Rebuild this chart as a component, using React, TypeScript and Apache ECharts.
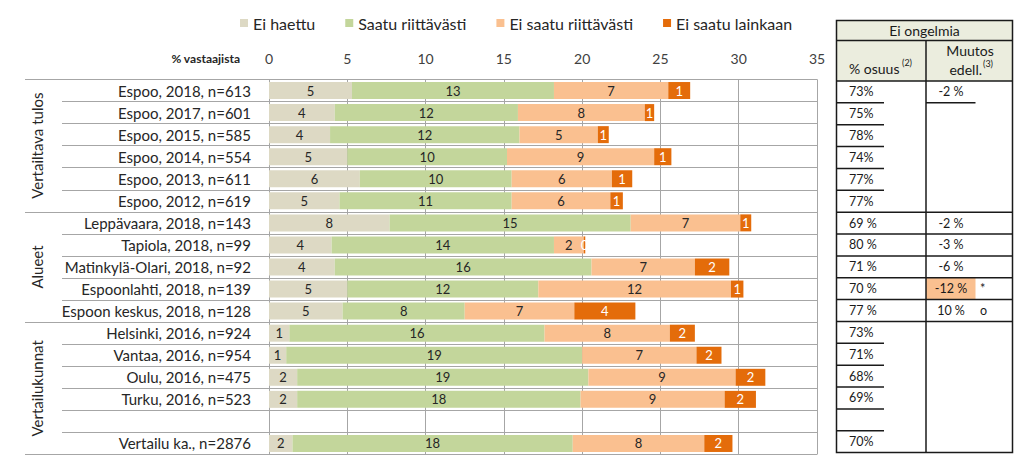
import React, { useEffect, useRef } from "react";
import * as echarts from "echarts";

const categories = [
  "Espoo, 2018, n=613",
  "Espoo, 2017, n=601",
  "Espoo, 2015, n=585",
  "Espoo, 2014, n=554",
  "Espoo, 2013, n=611",
  "Espoo, 2012, n=619",
  "Leppävaara, 2018, n=143",
  "Tapiola, 2018, n=99",
  "Matinkylä-Olari, 2018, n=92",
  "Espoonlahti, 2018, n=139",
  "Espoon keskus, 2018, n=128",
  "Helsinki, 2016, n=924",
  "Vantaa, 2016, n=954",
  "Oulu, 2016, n=475",
  "Turku, 2016, n=523",
  " ",
  "Vertailu ka., n=2876",
];

const eiHaettu = [5.3, 4.2, 3.9, 5.0, 5.8, 4.5, 7.7, 4.0, 4.2, 5.0, 4.7, 1.3, 1.1, 1.8, 1.8, null, 1.5];
const saatuRiittavasti = [12.9, 11.7, 12.1, 10.2, 9.7, 11.0, 15.4, 14.2, 16.4, 12.2, 7.8, 16.3, 18.9, 18.6, 18.1, null, 17.9];
const eiSaatuRiittavasti = [7.3, 8.1, 5.0, 9.4, 6.4, 6.3, 7.0, 1.9, 6.6, 12.3, 7.0, 8.0, 7.3, 9.4, 9.2, null, 8.4];
const eiSaatuLainkaan = [1.4, 0.6, 0.7, 1.1, 1.3, 0.8, 0.7, 0.1, 2.2, 0.8, 3.9, 1.6, 1.6, 1.9, 2.0, null, 1.8];

const seriesNames = ["Ei haettu", "Saatu riittävästi", "Ei saatu riittävästi", "Ei saatu lainkaan"];
const seriesData = [eiHaettu, saatuRiittavasti, eiSaatuRiittavasti, eiSaatuLainkaan];

const groupNames = ["Vertailtava tulos", "Alueet", "Vertailukunnat"];
const groupStarts = [0, 6, 11];
const groupCounts = [6, 5, 6];

const axisTitle = "% vastaajista";
const xMin = 0;
const xMax = 35;
const xInterval = 5;

const tableTitle = "Ei ongelmia";
const col1Header = "% osuus";
const col1Sup = "(2)";
const col2HeaderTop = "Muutos";
const col2HeaderBottom = "edell.";
const col2Sup = "(3)";
const osuus = ["73%", "75%", "78%", "74%", "77%", "77%", "69 %", "80 %", "71 %", "70 %", "77 %", "73%", "71%", "68%", "69%", "", "70%"];
const muutos = ["-2 %", "", "", "", "", "", "-2 %", "-3 %", "-6 %", "-12 %", "10 %", "", "", "", "", "", ""];
const muutosMark = ["", "", "", "", "", "", "", "", "", "*", "o", "", "", "", "", "", ""];
const highlightRow = 9;

// styling / layout
const colors = ["#DDD9C4", "#C3D69B", "#FAC090", "#E46C0A"];
const labelColors = ["#262626", "#262626", "#262626", "#FFFFFF"];
const FONT = "Lato, 'Open Sans', sans-serif";
const GRID_L = 269;
const GRID_R = 817;
const GRID_T = 79.5;
const GRID_B = 454.5;
const W = 1024;
const H = 465;
const gridColor = "#A6A6A6";

const T_L = 836.5;
const T_R = 1012.5;
const T_C = 926;
const T_TOP = 20.5;
const T_H1 = 40.5;
const T_H2 = 81;
const T_ROWH = 21.86;
const P1_END = 884;
const P2_END = 975.5;

function buildGraphics() {
  const g: any[] = [];
  const rowH = (GRID_B - GRID_T) / categories.length;
  // group labels
  groupNames.forEach((name, i) => {
    const cy = GRID_T + rowH * (groupStarts[i] + groupCounts[i] / 2);
    g.push({
      type: "text",
      x: 37,
      y: cy,
      rotation: Math.PI / 2,
      style: {
        text: name,
        fontSize: 15,
        fontFamily: FONT,
        fill: "#262626",
        align: "center",
        verticalAlign: "middle",
      },
    });
  });
  g.push({
    type: "text",
    x: 240,
    y: 58,
    style: {
      text: axisTitle,
      fontSize: 12,
      fontWeight: "bold",
      fontFamily: FONT,
      fill: "#262626",
      align: "right",
      verticalAlign: "middle",
    },
  });

  // table
  const nRows = osuus.length;
  const tBottom = T_H2 + nRows * T_ROWH;
  g.push({ type: "rect", shape: { x: T_L, y: T_TOP, width: T_R - T_L, height: T_H2 - T_TOP }, style: { fill: "#EBEDDE" } });
  g.push({
    type: "rect",
    shape: { x: T_C, y: T_H2 + highlightRow * T_ROWH, width: P2_END - T_C, height: T_ROWH },
    style: { fill: colors[2] },
  });
  const ls = { stroke: "#1a1a1a", lineWidth: 1.5 };
  const line = (x1: number, y1: number, x2: number, y2: number) =>
    g.push({ type: "line", shape: { x1, y1, x2, y2 }, style: ls });
  line(T_L, T_H1, T_R, T_H1);
  line(T_L, T_H2, T_R, T_H2);
  line(T_C, T_H1, T_C, tBottom);
  for (let i = 0; i < nRows - 1; i++) {
    const y = T_H2 + (i + 1) * T_ROWH;
    const groupEnd = groupStarts.includes(i + 1);
    const inAlueet = i >= groupStarts[1] && i < groupStarts[2];
    if (groupEnd || inAlueet) {
      line(T_L, y, T_R, y);
    } else {
      line(T_L, y, P1_END, y);
      if (muutos[i] !== "" && i < groupStarts[1]) line(T_C, y, P2_END, y);
    }
  }
  g.push({ type: "rect", shape: { x: T_L, y: T_TOP, width: T_R - T_L, height: tBottom - T_TOP }, style: { fill: "none", ...ls } });

  const txt = (text: string, x: number, y: number, size: number, align = "left", extra: any = {}) =>
    g.push({
      type: "text",
      x,
      y,
      style: { text, fontSize: size, fontFamily: FONT, fill: "#1a1a1a", align, verticalAlign: "middle", ...extra },
    });
  txt(tableTitle, (T_L + T_R) / 2, 30.5, 14, "center");
  txt(col1Header, 849, 68, 14, "left");
  txt(col1Sup, 902, 62, 9, "left");
  txt(col2HeaderTop, 970, 50, 14, "center");
  txt(col2HeaderBottom, 982, 69, 14, "right");
  txt(col2Sup, 983, 63, 9, "left");
  for (let i = 0; i < nRows; i++) {
    const cy = T_H2 + (i + 0.5) * T_ROWH;
    if (osuus[i]) txt(osuus[i], 849, cy, 12.5, "left");
    if (muutos[i]) txt(muutos[i], 951, cy, 12.5, "center");
    if (muutosMark[i]) txt(muutosMark[i], 980, cy, 12.5, "left");
  }
  return g;
}

export default function App() {
  const ref = useRef<HTMLDivElement>(null);
  useEffect(() => {
    if (!ref.current) return;
    const chart = echarts.init(ref.current, undefined, { renderer: "svg" });
    const gridBottom = H - GRID_B;
    const gridRight = W - GRID_R;
    const option: any = {
      animation: false,
      backgroundColor: "#ffffff",
      textStyle: { fontFamily: FONT },
      legend: {
        data: seriesNames,
        left: 235,
        top: 10,
        icon: "rect",
        itemWidth: 8,
        itemHeight: 8,
        itemGap: 30,
        textStyle: { fontSize: 16, color: "#262626", fontFamily: FONT },
      },
      grid: [
        { left: GRID_L, right: gridRight, top: GRID_T, bottom: gridBottom, containLabel: false },
        { left: GRID_L, right: gridRight, top: GRID_T, bottom: gridBottom, containLabel: false },
      ],
      xAxis: [
        {
          type: "value",
          gridIndex: 0,
          position: "top",
          min: xMin,
          max: xMax,
          interval: xInterval,
          axisLine: { show: true, lineStyle: { color: gridColor } },
          axisTick: { show: false },
          axisLabel: { fontSize: 14, color: "#404040", margin: 14, fontFamily: FONT },
          splitLine: { show: true, lineStyle: { color: gridColor, width: 1 } },
        },
        {
          type: "value",
          gridIndex: 1,
          min: xMin,
          max: xMax,
          show: false,
        },
      ],
      yAxis: [
        {
          type: "category",
          gridIndex: 0,
          data: categories,
          inverse: true,
          axisLine: { show: true, lineStyle: { color: gridColor } },
          axisTick: { show: true, length: GRID_L - 62, lineStyle: { color: gridColor } },
          axisLabel: { fontSize: 15, color: "#262626", margin: 18, fontFamily: FONT },
          splitLine: { show: true, lineStyle: { color: gridColor } },
        },
        {
          type: "category",
          gridIndex: 1,
          data: categories,
          inverse: true,
          axisLine: { show: false },
          axisLabel: { show: false },
          splitLine: { show: false },
          axisTick: {
            show: true,
            length: GRID_L - 25,
            interval: (idx: number) => groupStarts.includes(idx),
            lineStyle: { color: gridColor },
          },
        },
      ],
      series: seriesNames.map((name, si) => ({
        name,
        type: "bar",
        stack: "total",
        xAxisIndex: 0,
        yAxisIndex: 0,
        barWidth: 17,
        itemStyle: { color: colors[si] },
        label: {
          show: true,
          position: "inside",
          fontSize: 13,
          fontFamily: FONT,
          color: labelColors[si],
          formatter: (p: any) => (p.value == null ? "" : String(Math.round(p.value))),
        },
        data: seriesData[si],
      })),
      graphic: buildGraphics(),
    };
    chart.setOption(option);
    return () => chart.dispose();
  }, []);
  return (
    <div
      ref={ref}
      style={{ position: "fixed", left: 0, top: 0, width: W, height: H, background: "#fff" }}
    />
  );
}
